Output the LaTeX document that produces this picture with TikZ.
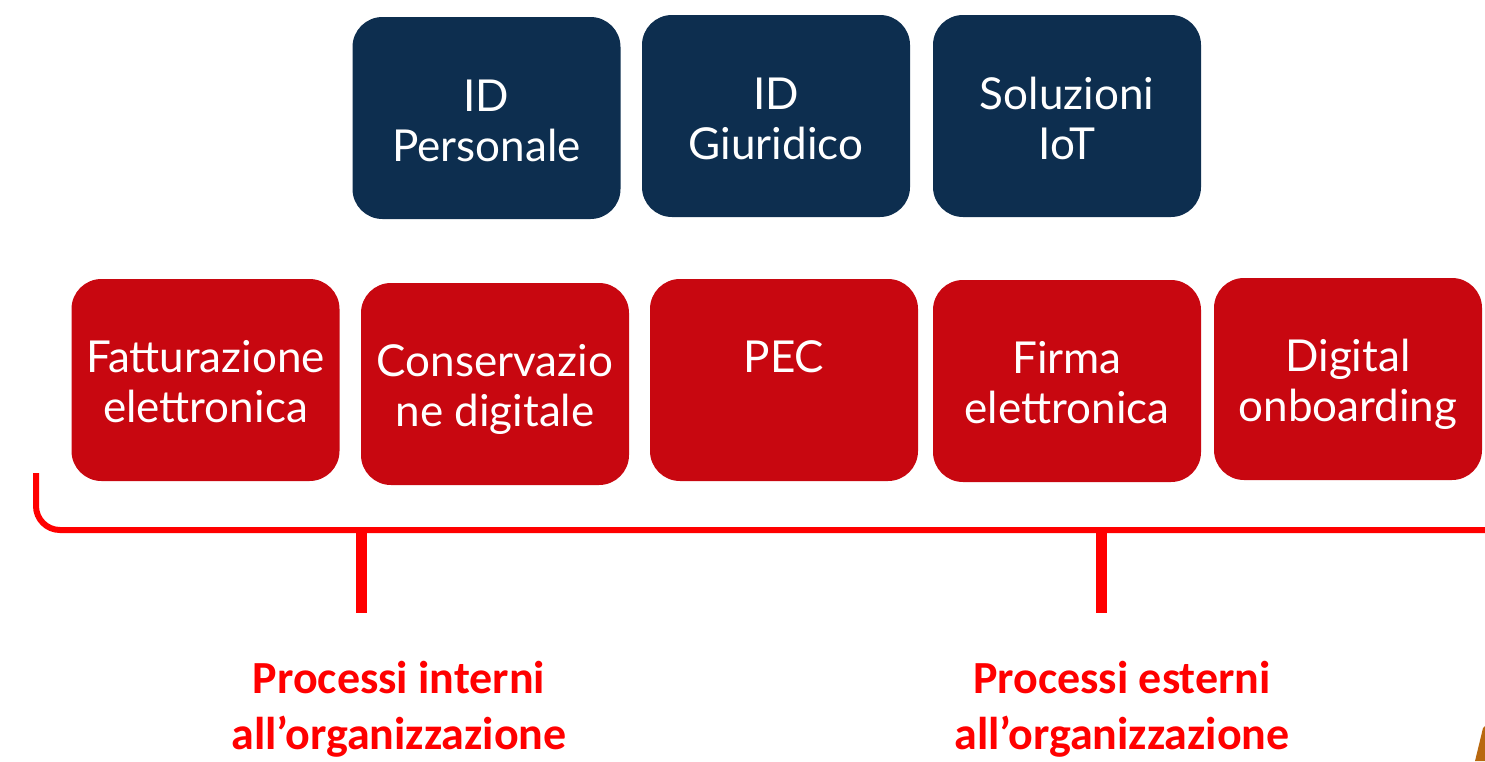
\documentclass[tikz,border=0pt]{standalone}
\usepackage{fontspec}
\setmainfont{Lato}
\newfontfamily\labfont{Carlito}
\definecolor{navy}{RGB}{13,46,79}
\definecolor{boxred}{RGB}{200,7,16}
\definecolor{brightred}{RGB}{255,0,0}
\definecolor{brownish}{RGB}{184,104,15}
\tikzset{
  boxbase/.style={rounded corners=30pt, minimum width=268pt, minimum height=202pt, inner sep=0pt},
  navybox/.style={boxbase, fill=navy},
  redbox/.style={boxbase, fill=boxred},
  boxtext/.style={text=white, align=center, anchor=base, inner sep=0pt, font=\fontsize{44}{50}\selectfont},
  bracket/.style={draw=brightred, line width=6pt},
  tick/.style={draw=brightred, line width=11pt},
  labtext/.style={text=brightred, align=center, anchor=base, inner sep=0pt, font=\labfont\bfseries\fontsize{46}{56}\selectfont}
}
\begin{document}
\begin{tikzpicture}[x=1pt,y=-1pt]
\useasboundingbox (0,0) rectangle (1485,761);
% top row
\node[navybox] (b1) at (486.5,118) {};
\node[navybox] (b2) at (776,116) {};
\node[navybox] (b3) at (1067,116) {};
\node[boxtext] (t1) at ([yshift=-145pt]b1.north) {ID\\Personale};
\node[boxtext] (t2) at ([yshift=-145pt]b2.north) {ID\\Giuridico};
\node[boxtext] (t3) at ([yshift=-145pt]b3.north) {Soluzioni\\IoT};
% second row
\node[redbox] (r1) at (205.5,380) {};
\node[redbox] (r2) at (495,384) {};
\node[redbox] (r3) at (784,380) {};
\node[redbox] (r4) at (1067,381) {};
\node[redbox] (r5) at (1348,379) {};
\node[boxtext] (u1) at ([yshift=-144pt]r1.north) {Fatturazione\\elettronica};
\node[boxtext] (u2) at ([yshift=-144pt]r2.north) {Conservazio\\ne digitale};
\node[boxtext] (u3) at ([yshift=-94pt]r3.north) {PEC};
\node[boxtext] (u4) at ([yshift=-144pt]r4.north) {Firma\\elettronica};
\node[boxtext] (u5) at ([yshift=-144pt]r5.north) {Digital\\onboarding};
% bracket
\coordinate (bl) at (36,473);
\coordinate (bc) at (36,530);
\coordinate (br) at (1486,530);
\coordinate (k1) at (361,530);
\coordinate (k1e) at (361,613);
\coordinate (k2) at (1101,530);
\coordinate (k2e) at (1101,613);
\draw[bracket, rounded corners=24pt] (bl) -- (bc) -- (br);
\draw[tick] (k1) -- (k1e);
\draw[tick] (k2) -- (k2e);
% labels
\node[labtext] (l1) at (399,749) {Processi interni\\all’organizzazione};
\node[labtext] (l2) at (1122,749) {Processi esterni\\all’organizzazione};
% corner sliver
\fill[brownish] (1475,761) -- (1483,728) -- (1485,726) -- (1485,761) -- cycle;
\end{tikzpicture}
\end{document}
